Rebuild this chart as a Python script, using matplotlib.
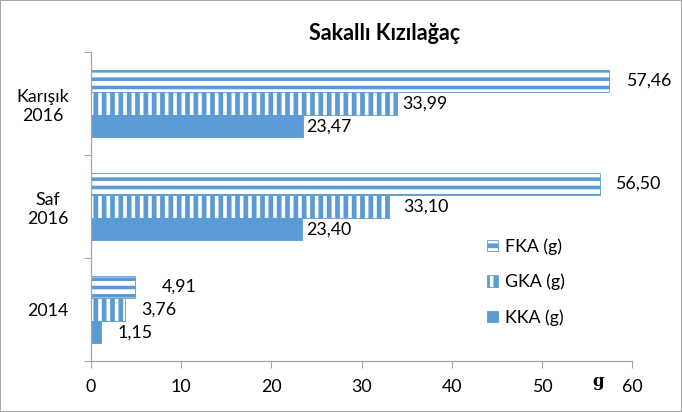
import matplotlib
matplotlib.use("Agg")
import matplotlib.pyplot as plt
import numpy as np

categories = ["2014", "Saf\n2016", "Karışık\n2016"]
series_names = ["KKA (g)", "GKA (g)", "FKA (g)"]
kka = [1.15, 23.40, 23.47]
gka = [3.76, 33.10, 33.99]
fka = [4.91, 56.50, 57.46]
value_labels_kka = ["1,15", "23,40", "23,47"]
value_labels_gka = ["3,76", "33,10", "33,99"]
value_labels_fka = ["4,91", "56,50", "57,46"]
x_ticks = [0, 10, 20, 30, 40, 50, 60]

# label offsets (pixels) as placed in the reference
off_kka = [16, 4, 3]
off_gka = [16, 14, 5]
off_fka = [27, 15, 17]

BLUE = "#5B9BD5"
W, H = 682, 412
FS = 12.8
fig = plt.figure(figsize=(W / 100, H / 100), dpi=100)
fig.patch.set_facecolor("white")
fig.patch.set_edgecolor("#A6A6A6")
fig.patch.set_linewidth(1.2)

ax = fig.add_axes([91 / W, 1 - 361 / H, (632 - 91) / W, (361 - 52) / H])
font = ["Lato", "DejaVu Sans"]

y = np.arange(len(categories))
bh = 0.22

plt.rcParams["hatch.color"] = BLUE
plt.rcParams["hatch.linewidth"] = 2.6
b_fka = ax.barh(y + bh, fka, height=bh, color="white", edgecolor=BLUE,
                linewidth=0.6, hatch="--", label=series_names[2])
plt.rcParams["hatch.linewidth"] = 3.4
b_gka = ax.barh(y, gka, height=bh, color="white", edgecolor=BLUE,
                linewidth=0.6, hatch="||", label=series_names[1])
b_kka = ax.barh(y - bh, kka, height=bh, color=BLUE, edgecolor=BLUE,
                linewidth=0.6, label=series_names[0])

for vals, labs, offs, dy in [(fka, value_labels_fka, off_fka, bh),
                             (gka, value_labels_gka, off_gka, 0),
                             (kka, value_labels_kka, off_kka, -bh)]:
    for i, (v, l, o) in enumerate(zip(vals, labs, offs)):
        ax.annotate(l, (v, i + dy), xytext=(o * 0.72, 0), textcoords="offset points",
                    ha="left", va="center", fontsize=FS, family=font, color="#000000")

ax.set_xlim(0, 60)
ax.set_ylim(-0.5, 2.5)
ax.set_xticks(x_ticks)
ax.set_xticklabels([str(t) for t in x_ticks], fontsize=FS, family=font)
ax.tick_params(axis="x", length=5, width=0.8, color="#A6A6A6", pad=8)

ax.set_yticks([-0.5, 0.5, 1.5, 2.5])
ax.set_yticklabels([])
ax.tick_params(axis="y", which="major", length=5, width=0.8, color="#A6A6A6")
ax.set_yticks(y, minor=True)
ax.set_yticklabels(categories, minor=True, fontsize=FS, family=font,
                   multialignment="center")
ax.tick_params(axis="y", which="minor", length=0, pad=16)

for s in ["top", "right"]:
    ax.spines[s].set_visible(False)
for s in ["left", "bottom"]:
    ax.spines[s].set_color("#A6A6A6")
    ax.spines[s].set_linewidth(0.9)

fig.text(385 / W, 1 - 33 / H, "Sakallı Kızılağaç", ha="center", va="center",
         fontsize=15.5, fontweight="bold", family=font)
ax.annotate("g", (56.3, -0.5), xytext=(0, -15), textcoords="offset points",
            ha="center", va="center", fontsize=12, fontweight="bold",
            family="DejaVu Serif")

leg = ax.legend(handles=[b_fka, b_gka, b_kka], loc="upper left",
                bbox_to_anchor=(471 / W, 1 - 222 / H), bbox_transform=fig.transFigure,
                frameon=False, prop={"family": font, "size": FS},
                handlelength=0.6, handleheight=0.6, handletextpad=0.4,
                labelspacing=1.08)

fig.savefig("out.png", dpi=100)
